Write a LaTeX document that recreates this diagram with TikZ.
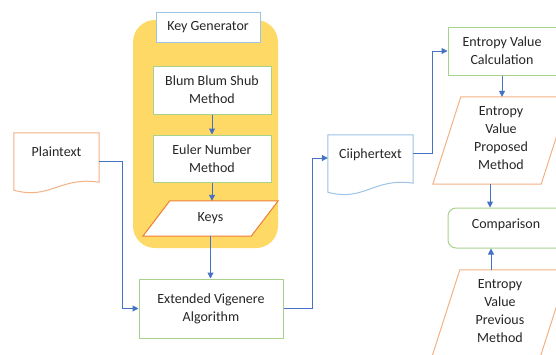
\documentclass[tikz,border=0pt]{standalone}
\usepackage{fontspec}
\setmainfont{Carlito}
\usetikzlibrary{arrows.meta,calc}

\definecolor{flowblue}{RGB}{68,114,196}
\definecolor{boxgreen}{RGB}{169,209,142}
\definecolor{boxorange}{RGB}{244,177,131}
\definecolor{keyorange}{RGB}{237,125,49}
\definecolor{boxblue}{RGB}{157,195,230}
\definecolor{genyellow}{RGB}{255,217,102}
\definecolor{txt}{RGB}{38,38,38}

\tikzset{
  process/.style={draw=boxgreen, fill=white, line width=1pt, align=center, inner sep=0pt},
  iobox/.style={inner sep=0pt},
  ioline/.style={fill=white, line width=1pt, draw=boxorange},
  docbox/.style={minimum width=85pt, minimum height=57pt, inner xsep=0pt, inner ysep=3pt,
    text height=20.5pt, text depth=30.5pt},
  docline/.style={fill=white, line width=1pt},
  flow/.style={draw=flowblue, line width=1pt, -{Triangle[length=6pt,width=6pt]}}
}

\begin{document}
\begin{tikzpicture}[x=1pt, y=-1pt, font=\fontsize{14}{18}\selectfont, text=txt]
  \useasboundingbox (0,0) rectangle (556,354);
  \clip (0,0) rectangle (556,354);

  % key generator block
  \node[fill=genyellow, rounded corners=22pt, minimum width=145pt, minimum height=228pt] (genbox) at (205.5,134) {};
  \node[draw=boxblue, fill=white, line width=1pt, minimum width=104pt, minimum height=30pt, inner sep=0pt] (keygen) at (208,27) {Key Generator};
  \node[process, minimum width=118pt, minimum height=48pt] (bbs) at (212,90) {Blum Blum Shub\\Method};
  \node[process, minimum width=118pt, minimum height=47pt] (euler) at (212,158.5) {Euler Number\\Method};
  \node[iobox, minimum width=135pt, minimum height=35pt] (keys) at (210.5,218.5) {};
  \draw[ioline, draw=keyorange] (keys.south west) -- ([xshift=27pt]keys.north west) -- (keys.north east)
    -- ([xshift=-27pt]keys.south east) -- cycle;
  \node at (keys) {Keys};

  \node[process, minimum width=144pt, minimum height=59pt] (ext) at (211,308.5) {Extended Vigenere\\Algorithm};

  % documents
  \node[docbox] (plain) at (56.5,161.5) {};
  \draw[docline, draw=boxorange] (plain.north west) -- (plain.north east) -- ($(plain.south east)+(0,-8)$)
    .. controls ($(plain.south east)+(-39,-14)$) and ($(plain.south west)+(36,10)$) .. (plain.south west) -- cycle;
  \node[docbox] at (plain) {Plaintext};

  \node[docbox] (cipher) at (370.5,163.5) {};
  \draw[docline, draw=boxblue] (cipher.north west) -- (cipher.north east) -- ($(cipher.south east)+(0,-9)$)
    .. controls ($(cipher.south east)+(-39,-15)$) and ($(cipher.south west)+(36,10)$) .. (cipher.south west) -- cycle;
  \node[docbox] at (cipher) {Ciiphertext};

  % entropy
  \node[process, minimum width=108pt, minimum height=48pt] (calc) at (502,51) {Entropy Value\\Calculation};
  \node[iobox, minimum width=136pt, minimum height=87pt] (prop) at (501,140.5) {};
  \draw[ioline] (prop.south west) -- ([xshift=28pt]prop.north west) -- (prop.north east)
    -- ([xshift=-28pt]prop.south east) -- cycle;
  \node[align=center] at ([yshift=2pt]prop) {Entropy\\Value\\Proposed\\Method};
  \node[process, rounded corners=8pt, minimum width=116pt, minimum height=40pt, text depth=12pt, text height=12pt] (comp) at (506,228) {Comparison};
  \node[iobox, minimum width=136pt, minimum height=87pt] (prev) at (500,313.5) {};
  \draw[ioline] (prev.south west) -- ([xshift=28pt]prev.north west) -- (prev.north east)
    -- ([xshift=-28pt]prev.south east) -- cycle;
  \node[align=center] at ([yshift=2pt]prev) {Entropy\\Value\\Previous\\Method};

  \draw[flow] (bbs.south) -- (euler.north);
  \draw[flow] (euler.south) -- (euler.south |- keys.north);
  \draw[flow] (keys.south) -- (keys.south |- ext.north);
  \draw[flow] (plain.east) -- ++(23,0) |- (ext.west);
  \draw[flow] (ext.east) -- ++(29,0) |- ([yshift=5.5pt]cipher.west);
  \draw[flow] ([yshift=10.5pt]cipher.east) -- ++(19,0) |- (calc.west);
  \draw[flow] (calc.south) -- (calc.south |- prop.north);
  \draw[flow] ([xshift=-11pt]prop.south) -- ([xshift=-11pt]prop.south |- comp.north);
  \draw[flow] ([xshift=-9pt]prev.north) -- ([xshift=-9pt]prev.north |- comp.south);
\end{tikzpicture}
\end{document}
